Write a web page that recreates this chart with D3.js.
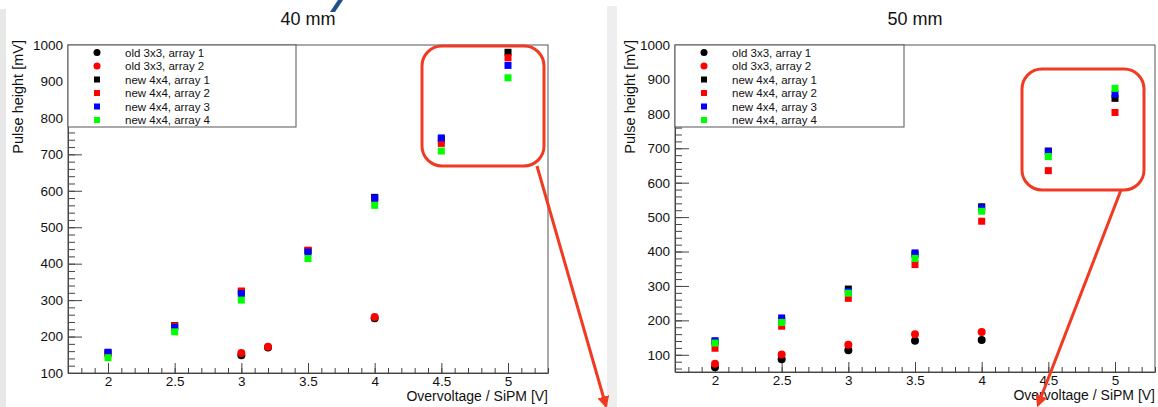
<!DOCTYPE html>
<html>
<head>
<meta charset="utf-8">
<script src="https://cdn.jsdelivr.net/npm/d3@7"></script>
<style>
  body { margin: 0; background: #fff; }
  #chart { width: 1158px; height: 407px; }
  text { font-family: "Liberation Sans", Arial, Helvetica, sans-serif; }
</style>
</head>
<body>
<div id="chart"></div>
<script>
// series names / marker style (ROOT colours)
var seriesNames = ["old 3x3, array 1", "old 3x3, array 2", "new 4x4, array 1",
                   "new 4x4, array 2", "new 4x4, array 3", "new 4x4, array 4"];
var seriesColors = ["#000000", "#ff0000", "#000000", "#ff0000", "#0000ff", "#00ff00"];
var seriesShapes = ["circle", "circle", "square", "square", "square", "square"];

// overvoltage values
var newVolts = [2, 2.5, 3, 3.5, 4, 4.5, 5];
var oldVolts40 = [3, 3.2, 4];
var oldVolts50 = [2, 2.5, 3, 3.5, 4];
var xTicks = [2, 2.5, 3, 3.5, 4, 4.5, 5];

// 40 mm pulse heights [mV]
var old1_40 = [149, 170, 250];
var old2_40 = [155, 172, 254];
var new1_40 = [155, 230, 323, 436, 582, 742, 980];
var new2_40 = [152, 229, 325, 437, 578, 730, 965];
var new3_40 = [157, 225, 318, 432, 580, 745, 944];
var new4_40 = [142, 213, 300, 414, 560, 709, 910];

// 50 mm pulse heights [mV]
var old1_50 = [64, 87, 113, 141, 143];
var old2_50 = [74, 101, 129, 160, 166];
var new1_50 = [137, 200, 291, 392, 530, 692, 845];
var new2_50 = [119, 183, 264, 362, 488, 635, 804];
var new3_50 = [141, 207, 284, 396, 527, 690, 857];
var new4_50 = [134, 194, 279, 380, 517, 676, 874];

var width = 1158, height = 407;

var svg = d3.select("#chart")
    .append("svg")
    .attr("width", width)
    .attr("height", height);

// slide background bits
svg.append("rect").attr("x", 0).attr("y", 9).attr("width", 6).attr("height", height - 9).attr("fill", "#e8e8e8");
svg.append("rect").attr("x", 607).attr("y", 6).attr("width", 10).attr("height", height - 6).attr("fill", "#eeeeee");
// descender of the slide heading, cut by the top edge
svg.append("path").attr("d", "M338,0 L343,0 L335,12 L330,12 Z").attr("fill", "#1f4f8f");

function zip(xs, ys) { return xs.map((x, i) => ({x: x, y: ys[i]})); }

var panels = [
  { title: "40 mm", left: 68, right: 548, top: 45, bottom: 373, yMin: 100, yMax: 1000,
    ytitleX: 18, legendRight: 296,
    series: [zip(oldVolts40, old1_40), zip(oldVolts40, old2_40), zip(newVolts, new1_40),
             zip(newVolts, new2_40), zip(newVolts, new3_40), zip(newVolts, new4_40)] },
  { title: "50 mm", left: 675, right: 1155, top: 45, bottom: 372, yMin: 50, yMax: 1000,
    ytitleX: 630, legendRight: 904,
    series: [zip(oldVolts50, old1_50), zip(oldVolts50, old2_50), zip(newVolts, new1_50),
             zip(newVolts, new2_50), zip(newVolts, new3_50), zip(newVolts, new4_50)] }
];

panels.forEach(function(p) {
  var x = d3.scaleLinear().domain([1.7, 5.3]).range([p.left, p.right]);
  var y = d3.scaleLinear().domain([p.yMin, p.yMax]).range([p.bottom, p.top]);
  var g = svg.append("g");

  // frame
  g.append("rect")
    .attr("x", p.left).attr("y", p.top)
    .attr("width", p.right - p.left).attr("height", p.bottom - p.top)
    .attr("fill", "#fff").attr("stroke", "#555").attr("stroke-width", 1);

  /* AXES (ROOT style: ticks inside) */
  var yMinor = d3.range(Math.ceil(p.yMin / 20) * 20, p.yMax + 1, 20);
  var yMajor = d3.range(100, p.yMax + 1, 100);
  g.append("g").attr("transform", `translate(${p.left},0)`)
    .call(d3.axisLeft(y).tickValues(yMinor).tickSize(-7).tickSizeOuter(0).tickFormat(""))
    .call(a => a.select(".domain").remove());
  g.append("g").attr("transform", `translate(${p.left},0)`)
    .call(d3.axisLeft(y).tickValues(yMajor).tickSize(-14).tickSizeOuter(0).tickPadding(5).tickFormat(d3.format("d")))
    .call(a => a.selectAll("text").attr("font-size", 13.5).attr("fill", "#111").style("font-family", "Liberation Sans, Arial, sans-serif"));

  var xMinor = d3.range(18, 54).map(d => d / 10);
  g.append("g").attr("transform", `translate(0,${p.bottom})`)
    .call(d3.axisBottom(x).tickValues(xMinor).tickSize(-5).tickSizeOuter(0).tickFormat(""))
    .call(a => a.select(".domain").remove());
  g.append("g").attr("transform", `translate(0,${p.bottom})`)
    .call(d3.axisBottom(x).tickValues(xTicks).tickSize(-10).tickSizeOuter(0).tickPadding(3).tickFormat(d3.format("")))
    .call(a => a.selectAll("text").attr("font-size", 13.5).attr("fill", "#111").style("font-family", "Liberation Sans, Arial, sans-serif"));

  g.selectAll(".tick line").attr("stroke", "#444");
  g.selectAll(".domain").attr("stroke", "#444");

  // axis titles
  g.append("text")
    .attr("transform", `translate(${p.ytitleX + 5},${p.top - 5}) rotate(-90)`)
    .attr("text-anchor", "end").attr("font-size", 14.5).attr("fill", "#111")
    .text("Pulse height [mV]");
  g.append("text")
    .attr("x", p.right).attr("y", p.bottom + 28)
    .attr("text-anchor", "end").attr("font-size", 14).attr("fill", "#111")
    .text("Overvoltage / SiPM [V]");

  // panel title
  g.append("text")
    .attr("x", (p.left + p.right) / 2) .attr("y", 25)
    .attr("text-anchor", "middle").attr("font-size", 18).attr("fill", "#111")
    .text(p.title);

  /* DATA POINTS */
  p.series.forEach(function(s, i) {
    var pts = g.append("g");
    if (seriesShapes[i] === "circle") {
      pts.selectAll("circle").data(s).enter().append("circle")
        .attr("cx", d => x(d.x)).attr("cy", d => y(d.y)).attr("r", 4)
        .attr("fill", seriesColors[i]);
    } else {
      pts.selectAll("rect").data(s).enter().append("rect")
        .attr("x", d => x(d.x) - 3.5).attr("y", d => y(d.y) - 3.5)
        .attr("width", 7).attr("height", 7)
        .attr("fill", seriesColors[i]);
    }
  });

  /* LEGEND */
  var lg = g.append("g");
  lg.append("rect")
    .attr("x", p.left).attr("y", p.top)
    .attr("width", p.legendRight - p.left).attr("height", 82)
    .attr("fill", "#fff").attr("stroke", "#555").attr("stroke-width", 1);
  seriesNames.forEach(function(name, i) {
    var ly = p.top + 7.5 + i * 13.5;
    if (seriesShapes[i] === "circle") {
      lg.append("circle").attr("cx", p.left + 29).attr("cy", ly).attr("r", 3.5).attr("fill", seriesColors[i]);
    } else {
      lg.append("rect").attr("x", p.left + 26).attr("y", ly - 3).attr("width", 6).attr("height", 6).attr("fill", seriesColors[i]);
    }
    lg.append("text").attr("x", p.left + 57).attr("y", ly + 4)
      .attr("font-size", 11.5).attr("fill", "#111").text(name);
  });
});

/* RED ANNOTATIONS */
var red = "#f03a22";
svg.append("defs").append("marker")
  .attr("id", "arrow").attr("viewBox", "0 0 10 10")
  .attr("refX", 8).attr("refY", 5)
  .attr("markerWidth", 4).attr("markerHeight", 4)
  .attr("orient", "auto")
  .append("path").attr("d", "M0,0 L10,5 L0,10 z").attr("fill", red);

var notes = [
  { x: 422, y: 46, w: 122, h: 120, from: [537, 166], to: [606, 406] },
  { x: 1022, y: 69, w: 122, h: 121, from: [1121, 190], to: [1038, 405] }
];
notes.forEach(function(n) {
  svg.append("rect").attr("x", n.x).attr("y", n.y).attr("width", n.w).attr("height", n.h)
    .attr("rx", 20).attr("ry", 20).attr("fill", "none").attr("stroke", red).attr("stroke-width", 3);
  svg.append("line").attr("x1", n.from[0]).attr("y1", n.from[1]).attr("x2", n.to[0]).attr("y2", n.to[1])
    .attr("stroke", red).attr("stroke-width", 3).attr("marker-end", "url(#arrow)");
});
</script>
</body>
</html>
